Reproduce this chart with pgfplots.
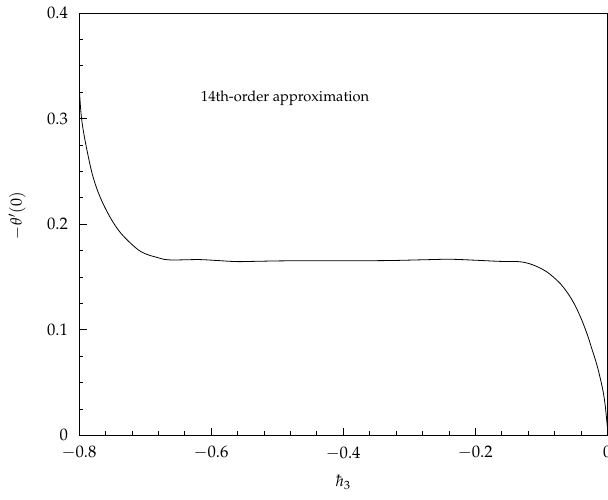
\documentclass[border=0pt]{standalone}
\usepackage[T1]{fontenc}
\usepackage{mathpazo}
\usepackage{pgfplots}
\pgfplotsset{compat=1.18}
\begin{document}
\fontsize{11}{13}\selectfont
\begin{tikzpicture}
\begin{axis}[
  width=396pt, height=316.5pt, scale only axis,
  xmin=-0.8, xmax=0, ymin=0, ymax=0.4,
  xtick={-0.8,-0.6,-0.4,-0.2,0},
  xticklabels={$-0.8$,$-0.6$,$-0.4$,$-0.2$,$0$},
  ytick={0,0.1,0.2,0.3,0.4},
  yticklabels={$0$,$0.1$,$0.2$,$0.3$,$0.4$},
  minor x tick num=4, minor y tick num=3,
  tick pos=left, tick align=inside,
  major tick length=5.8pt, minor tick length=3.2pt,
  tick style={black, line width=0.5pt},
  axis line style={line width=0.6pt},
  xlabel={$\hbar_3$}, ylabel={$-\theta'(0)$},
  every axis x label/.style={at={(axis description cs:0.5,-0.112)}, anchor=center},
  every axis y label/.style={at={(axis description cs:-0.117,0.52)}, anchor=center, rotate=90},
  yticklabel style={xshift=-4.5pt},
  xticklabel style={yshift=-4.5pt},
  tick label style={font=\fontsize{12.5}{14}\selectfont},
  label style={font=\fontsize{12}{14}\selectfont},
]
\addplot[black, line width=0.6pt, smooth, tension=0.6] coordinates {
(-0.8, 0.334)
(-0.796, 0.299)
(-0.786, 0.264)
(-0.776, 0.239)
(-0.761, 0.216)
(-0.740, 0.194)
(-0.715, 0.178)
(-0.700, 0.172)
(-0.685, 0.169)
(-0.670, 0.1665)
(-0.660, 0.166)
(-0.640, 0.1662)
(-0.617, 0.1664)
(-0.590, 0.1655)
(-0.561, 0.1645)
(-0.530, 0.1648)
(-0.491, 0.1652)
(-0.440, 0.1653)
(-0.389, 0.1653)
(-0.330, 0.1655)
(-0.280, 0.1662)
(-0.238, 0.1667)
(-0.200, 0.1658)
(-0.162, 0.1647)
(-0.140, 0.1646)
(-0.128, 0.1640)
(-0.118, 0.1625)
(-0.108, 0.1602)
(-0.099, 0.1575)
(-0.091, 0.1545)
(-0.082, 0.1500)
(-0.071, 0.1435)
(-0.061, 0.1355)
(-0.051, 0.1255)
(-0.041, 0.1125)
(-0.031, 0.0965)
(-0.023, 0.0810)
(-0.016, 0.0670)
(-0.010, 0.0520)
(-0.006, 0.0400)
(-0.003, 0.0270)
(0, 0.008)
};
\node[font=\fontsize{11}{13}\selectfont] at (axis cs:-0.488,0.319) {14th-order approximation};
\end{axis}
\pgfresetboundingbox
\path[use as bounding box] ([shift={(-59.25pt,-48pt)}]current axis.south west) rectangle ([shift={(0.5pt,9.75pt)}]current axis.north east);
\end{tikzpicture}
\end{document}
